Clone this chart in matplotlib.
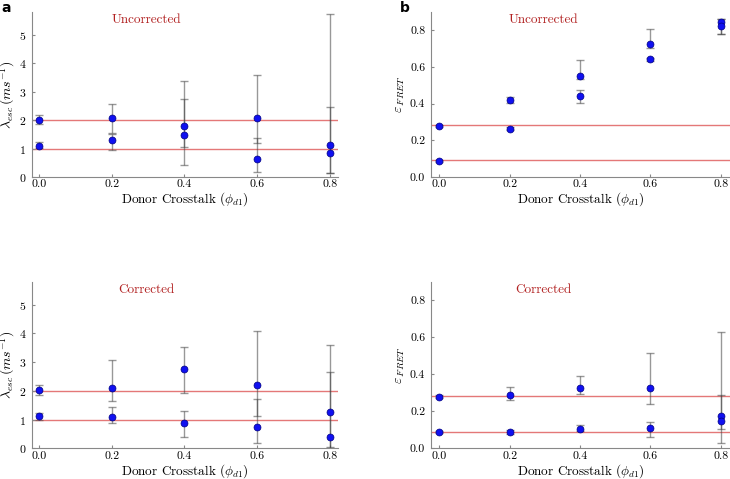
import matplotlib
matplotlib.use("Agg")
import matplotlib.pyplot as plt
import numpy as np

plt.rcParams["font.family"] = "serif"
plt.rcParams["font.serif"] = ["cmr10"]
plt.rcParams["mathtext.fontset"] = "cm"
plt.rcParams["axes.formatter.use_mathtext"] = True

crosstalk = [0.0, 0.2, 0.4, 0.6, 0.8]

# lambda_esc, uncorrected: two populations, values + (low, high) error ends
lam_unc_a = [2.02, 2.09, 1.80, 2.09, 1.13]
lam_unc_a_lo = [1.87, 1.55, 1.04, 1.18, 0.13]
lam_unc_a_hi = [2.17, 2.55, 2.73, 3.59, 5.73]
lam_unc_b = [1.10, 1.30, 1.49, 0.62, 0.85]
lam_unc_b_lo = [1.03, 0.95, 0.42, 0.16, 0.13]
lam_unc_b_hi = [1.22, 1.52, 3.39, 1.36, 2.47]

# lambda_esc, corrected
lam_cor_a = [2.03, 2.10, 2.76, 2.20, 1.27]
lam_cor_a_lo = [1.85, 1.63, 1.93, 1.14, 0.03]
lam_cor_a_hi = [2.20, 3.06, 3.51, 4.07, 3.60]
lam_cor_b = [1.12, 1.09, 0.87, 0.76, 0.40]
lam_cor_b_lo = [1.00, 0.88, 0.40, 0.17, 0.02]
lam_cor_b_hi = [1.24, 1.43, 1.31, 1.70, 2.66]

# FRET efficiency, uncorrected
eff_unc_a = [0.277, 0.421, 0.553, 0.724, 0.845]
eff_unc_a_lo = [0.270, 0.405, 0.535, 0.705, 0.780]
eff_unc_a_hi = [0.284, 0.435, 0.639, 0.805, 0.860]
eff_unc_b = [0.086, 0.262, 0.439, 0.643, 0.823]
eff_unc_b_lo = [0.080, 0.255, 0.405, 0.635, 0.780]
eff_unc_b_hi = [0.092, 0.270, 0.475, 0.650, 0.860]

# FRET efficiency, corrected
eff_cor_a = [0.279, 0.286, 0.324, 0.327, 0.176]
eff_cor_a_lo = [0.270, 0.261, 0.295, 0.237, 0.027]
eff_cor_a_hi = [0.288, 0.329, 0.388, 0.513, 0.630]
eff_cor_b = [0.089, 0.090, 0.106, 0.108, 0.147]
eff_cor_b_lo = [0.082, 0.080, 0.095, 0.059, 0.107]
eff_cor_b_hi = [0.096, 0.098, 0.128, 0.140, 0.290]

lam_true = [2.0, 1.0]
eff_true = [0.285, 0.09]

red = "#b22222"


def panel(ax, series, truth, ylim, yticks, ylabel, title, ylab_x):
    for t in truth:
        ax.axhline(t, color="#e06060", lw=1.0, alpha=0.85, zorder=1)
    for y, lo, hi in series:
        y = np.array(y)
        err = [y - np.array(lo), np.array(hi) - y]
        ax.errorbar(crosstalk, y, yerr=err, fmt="none", ecolor="#444444",
                    elinewidth=1.0, capsize=3, capthick=1.0, alpha=0.55, zorder=2)
        ax.plot(crosstalk, y, "o", color="#1010f0", mec="#000080", mew=0.5,
                ms=5, zorder=3)
    ax.set_ylim(*ylim)
    ax.set_yticks(yticks)
    ax.set_xticks(crosstalk)
    ax.set_xticklabels(["0.0", "0.2", "0.4", "0.6", "0.8"])
    for s in ["top", "right"]:
        ax.spines[s].set_visible(False)
    for s in ["left", "bottom"]:
        ax.spines[s].set_color("#888888")
    ax.tick_params(axis="y", length=2, direction="in", color="#888888",
                   labelsize=8.5, pad=4)
    ax.tick_params(axis="x", length=2, direction="in", color="#888888",
                   labelsize=8.5, pad=2)
    ax.set_ylabel(ylabel, fontsize=10)
    ax.yaxis.label.set_verticalalignment("center")
    ax.yaxis.set_label_coords(ylab_x, 0.5)
    ax.set_xlabel(r"Donor Crosstalk ($\phi_{d1}$)", fontsize=9.5)
    ax.xaxis.label.set_verticalalignment("center")
    ax.xaxis.set_label_coords(0.5, -0.135)
    ax.text(0.375, 0.95, title, transform=ax.transAxes, ha="center",
            va="center", color=red, fontsize=9.5)


fig = plt.figure(figsize=(7.3, 4.79), dpi=100)
ax1 = fig.add_axes([0.0438, 0.6305, 0.419, 0.3445])
ax2 = fig.add_axes([0.590, 0.6305, 0.41, 0.3445])
ax3 = fig.add_axes([0.0438, 0.064, 0.419, 0.348])
ax4 = fig.add_axes([0.590, 0.064, 0.41, 0.348])

lam_label = r"$\lambda_{esc}\,(ms^{-1})$"
eff_label = r"$\varepsilon_{\,FRET}$"

panel(ax1, [(lam_unc_a, lam_unc_a_lo, lam_unc_a_hi),
            (lam_unc_b, lam_unc_b_lo, lam_unc_b_hi)],
      lam_true, (0, 5.8), [0, 1, 2, 3, 4, 5], lam_label, "Uncorrected", -0.078)
panel(ax3, [(lam_cor_a, lam_cor_a_lo, lam_cor_a_hi),
            (lam_cor_b, lam_cor_b_lo, lam_cor_b_hi)],
      lam_true, (0, 5.8), [0, 1, 2, 3, 4, 5], lam_label, "Corrected", -0.078)
panel(ax2, [(eff_unc_a, eff_unc_a_lo, eff_unc_a_hi),
            (eff_unc_b, eff_unc_b_lo, eff_unc_b_hi)],
      eff_true, (0, 0.9), [0, 0.2, 0.4, 0.6, 0.8], eff_label, "Uncorrected", -0.1)
panel(ax4, [(eff_cor_a, eff_cor_a_lo, eff_cor_a_hi),
            (eff_cor_b, eff_cor_b_lo, eff_cor_b_hi)],
      eff_true, (0, 0.9), [0, 0.2, 0.4, 0.6, 0.8], eff_label, "Corrected", -0.1)

for ax in (ax1, ax3):
    ax.set_xlim(-0.019, 0.822)
for ax in (ax2, ax4):
    ax.set_xlim(-0.024, 0.826)
    ax.yaxis.set_major_formatter(matplotlib.ticker.FormatStrFormatter("%.1f"))

fig.text(0.002, 0.997, "a", fontsize=10, fontweight="bold", family="DejaVu Sans",
         ha="left", va="top")
fig.text(0.548, 0.997, "b", fontsize=10, fontweight="bold", family="DejaVu Sans",
         ha="left", va="top")

fig.savefig("out.png", dpi=100)
